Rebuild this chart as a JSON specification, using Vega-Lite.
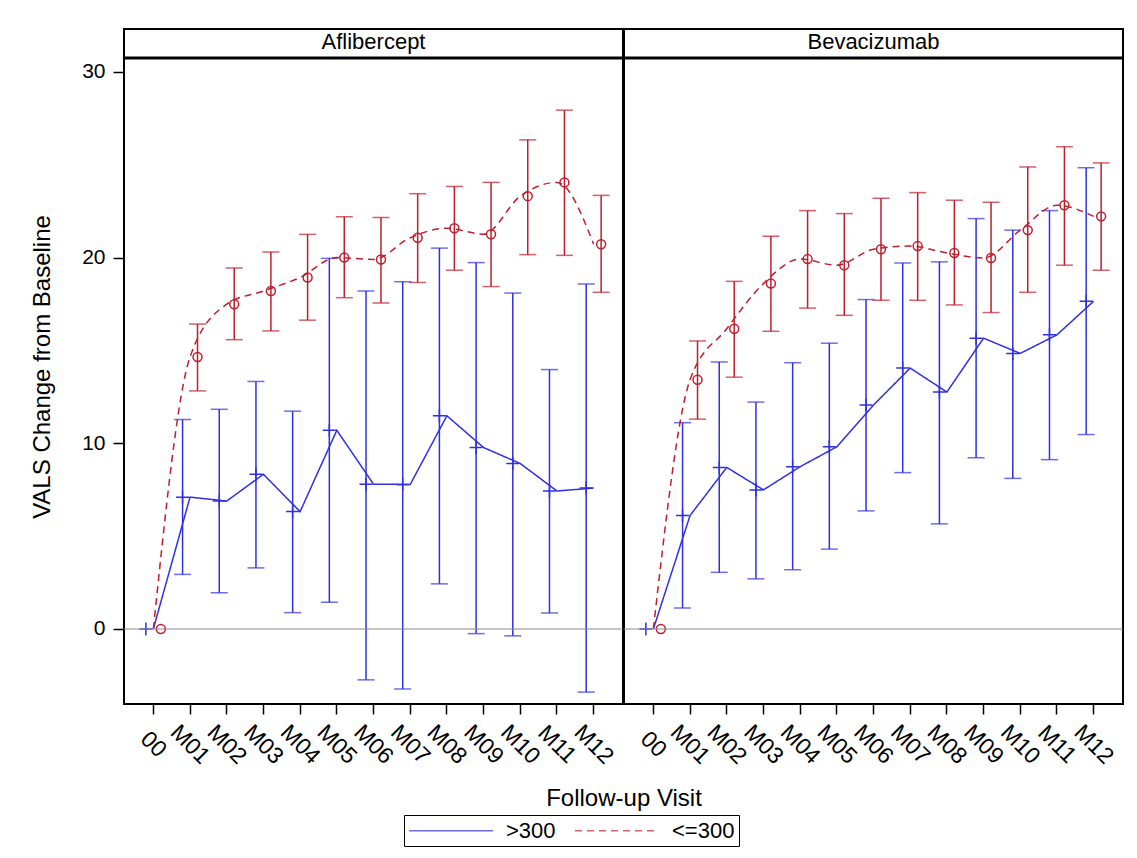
{
  "$schema": "https://vega.github.io/schema/vega-lite/v6.json",
  "padding": {"left": 30, "top": 28, "right": 5, "bottom": 5},
  "bounds": "flush",
  "config": {
    "font": "Liberation Sans",
    "view": {"stroke": "black", "strokeWidth": 2}
  },
  "data": {
    "values": [
      {"panel": "Aflibercept", "grp": ">300", "visit": "00", "mean": 0, "lo": null, "hi": null},
      {"panel": "Aflibercept", "grp": ">300", "visit": "M01", "mean": 7.1, "lo": 2.94, "hi": 11.28},
      {"panel": "Aflibercept", "grp": ">300", "visit": "M02", "mean": 6.89, "lo": 1.95, "hi": 11.83},
      {"panel": "Aflibercept", "grp": ">300", "visit": "M03", "mean": 8.33, "lo": 3.29, "hi": 13.33},
      {"panel": "Aflibercept", "grp": ">300", "visit": "M04", "mean": 6.32, "lo": 0.88, "hi": 11.73},
      {"panel": "Aflibercept", "grp": ">300", "visit": "M05", "mean": 10.7, "lo": 1.44, "hi": 19.96},
      {"panel": "Aflibercept", "grp": ">300", "visit": "M06", "mean": 7.8, "lo": -2.74, "hi": 18.2},
      {"panel": "Aflibercept", "grp": ">300", "visit": "M07", "mean": 7.78, "lo": -3.23, "hi": 18.7},
      {"panel": "Aflibercept", "grp": ">300", "visit": "M08", "mean": 11.48, "lo": 2.43, "hi": 20.51},
      {"panel": "Aflibercept", "grp": ">300", "visit": "M09", "mean": 9.77, "lo": -0.25, "hi": 19.73},
      {"panel": "Aflibercept", "grp": ">300", "visit": "M10", "mean": 8.91, "lo": -0.37, "hi": 18.09},
      {"panel": "Aflibercept", "grp": ">300", "visit": "M11", "mean": 7.43, "lo": 0.86, "hi": 13.97},
      {"panel": "Aflibercept", "grp": ">300", "visit": "M12", "mean": 7.59, "lo": -3.4, "hi": 18.58},
      {"panel": "Aflibercept", "grp": "<=300", "visit": "00", "mean": 0, "lo": null, "hi": null},
      {"panel": "Aflibercept", "grp": "<=300", "visit": "M01", "mean": 14.65, "lo": 12.82, "hi": 16.42},
      {"panel": "Aflibercept", "grp": "<=300", "visit": "M02", "mean": 17.49, "lo": 15.58, "hi": 19.44},
      {"panel": "Aflibercept", "grp": "<=300", "visit": "M03", "mean": 18.2, "lo": 16.05, "hi": 20.3},
      {"panel": "Aflibercept", "grp": "<=300", "visit": "M04", "mean": 18.93, "lo": 16.63, "hi": 21.25},
      {"panel": "Aflibercept", "grp": "<=300", "visit": "M05", "mean": 20.0, "lo": 17.84, "hi": 22.2},
      {"panel": "Aflibercept", "grp": "<=300", "visit": "M06", "mean": 19.9, "lo": 17.55, "hi": 22.16},
      {"panel": "Aflibercept", "grp": "<=300", "visit": "M07", "mean": 21.07, "lo": 18.66, "hi": 23.44},
      {"panel": "Aflibercept", "grp": "<=300", "visit": "M08", "mean": 21.58, "lo": 19.32, "hi": 23.83},
      {"panel": "Aflibercept", "grp": "<=300", "visit": "M09", "mean": 21.26, "lo": 18.44, "hi": 24.05},
      {"panel": "Aflibercept", "grp": "<=300", "visit": "M10", "mean": 23.31, "lo": 20.16, "hi": 26.34},
      {"panel": "Aflibercept", "grp": "<=300", "visit": "M11", "mean": 24.05, "lo": 20.12, "hi": 27.94},
      {"panel": "Aflibercept", "grp": "<=300", "visit": "M12", "mean": 20.72, "lo": 18.13, "hi": 23.35},
      {"panel": "Bevacizumab", "grp": ">300", "visit": "00", "mean": 0, "lo": null, "hi": null},
      {"panel": "Bevacizumab", "grp": ">300", "visit": "M01", "mean": 6.11, "lo": 1.13, "hi": 11.11},
      {"panel": "Bevacizumab", "grp": ">300", "visit": "M02", "mean": 8.7, "lo": 3.05, "hi": 14.38},
      {"panel": "Bevacizumab", "grp": ">300", "visit": "M03", "mean": 7.49, "lo": 2.7, "hi": 12.22},
      {"panel": "Bevacizumab", "grp": ">300", "visit": "M04", "mean": 8.74, "lo": 3.19, "hi": 14.34},
      {"panel": "Bevacizumab", "grp": ">300", "visit": "M05", "mean": 9.81, "lo": 4.3, "hi": 15.39},
      {"panel": "Bevacizumab", "grp": ">300", "visit": "M06", "mean": 12.06, "lo": 6.36, "hi": 17.74},
      {"panel": "Bevacizumab", "grp": ">300", "visit": "M07", "mean": 14.05, "lo": 8.42, "hi": 19.71},
      {"panel": "Bevacizumab", "grp": ">300", "visit": "M08", "mean": 12.76, "lo": 5.66, "hi": 19.77},
      {"panel": "Bevacizumab", "grp": ">300", "visit": "M09", "mean": 15.66, "lo": 9.22, "hi": 22.1},
      {"panel": "Bevacizumab", "grp": ">300", "visit": "M10", "mean": 14.84, "lo": 8.11, "hi": 21.48},
      {"panel": "Bevacizumab", "grp": ">300", "visit": "M11", "mean": 15.84, "lo": 9.12, "hi": 22.53},
      {"panel": "Bevacizumab", "grp": ">300", "visit": "M12", "mean": 17.65, "lo": 10.47, "hi": 24.84},
      {"panel": "Bevacizumab", "grp": "<=300", "visit": "00", "mean": 0, "lo": null, "hi": null},
      {"panel": "Bevacizumab", "grp": "<=300", "visit": "M01", "mean": 13.42, "lo": 11.3, "hi": 15.51},
      {"panel": "Bevacizumab", "grp": "<=300", "visit": "M02", "mean": 16.17, "lo": 13.56, "hi": 18.72},
      {"panel": "Bevacizumab", "grp": "<=300", "visit": "M03", "mean": 18.6, "lo": 16.03, "hi": 21.15},
      {"panel": "Bevacizumab", "grp": "<=300", "visit": "M04", "mean": 19.92, "lo": 17.28, "hi": 22.53},
      {"panel": "Bevacizumab", "grp": "<=300", "visit": "M05", "mean": 19.59, "lo": 16.89, "hi": 22.37},
      {"panel": "Bevacizumab", "grp": "<=300", "visit": "M06", "mean": 20.45, "lo": 17.7, "hi": 23.19},
      {"panel": "Bevacizumab", "grp": "<=300", "visit": "M07", "mean": 20.62, "lo": 17.7, "hi": 23.5},
      {"panel": "Bevacizumab", "grp": "<=300", "visit": "M08", "mean": 20.25, "lo": 17.45, "hi": 23.09},
      {"panel": "Bevacizumab", "grp": "<=300", "visit": "M09", "mean": 19.98, "lo": 17.04, "hi": 22.98},
      {"panel": "Bevacizumab", "grp": "<=300", "visit": "M10", "mean": 21.48, "lo": 18.13, "hi": 24.88},
      {"panel": "Bevacizumab", "grp": "<=300", "visit": "M11", "mean": 22.82, "lo": 19.59, "hi": 25.97},
      {"panel": "Bevacizumab", "grp": "<=300", "visit": "M12", "mean": 22.22, "lo": 19.32, "hi": 25.1}
    ]
  },
  "facet": {
    "column": {
      "field": "panel",
      "type": "nominal",
      "sort": ["Aflibercept", "Bevacizumab"],
      "header": {
        "title": "Follow-up Visit",
        "titleOrient": "bottom",
        "titleFontSize": 24,
        "titleFontWeight": "normal",
        "titleColor": "black",
        "titlePadding": 8,
        "labelOrient": "top",
        "labelFontSize": 22,
        "labelColor": "black",
        "labelPadding": -25
      }
    }
  },
  "spacing": 1,
  "spec": {
    "width": 499,
    "height": 675,
    "encoding": {
      "x": {
        "field": "visit",
        "type": "ordinal",
        "scale": {"type": "band", "paddingInner": 0, "paddingOuter": 0.3},
        "axis": {
          "title": null,
          "domain": false,
          "tickSize": 10,
          "tickColor": "black",
          "tickWidth": 1.5,
          "labelAngle": 45,
          "labelAlign": "center",
          "labelBaseline": "middle",
          "labelPadding": 30,
          "labelFontSize": 23,
          "labelColor": "black"
        }
      },
      "color": {
        "field": "grp",
        "type": "nominal",
        "scale": {"domain": [">300", "<=300"], "range": ["#2f2fe6", "#bf1e2e"]},
        "legend": {
          "title": null,
          "orient": "none",
          "legendX": 280,
          "legendY": 786,
          "direction": "horizontal",
          "symbolType": "M-1,0H7",
          "symbolSize": 441,
          "symbolStrokeWidth": 1.5,
          "labelFontSize": 22,
          "labelColor": "black",
          "labelOffset": 75,
          "columnPadding": 16,
          "strokeColor": "black",
          "padding": 4
        }
      }
    },
    "layer": [
      {
        "transform": [{"filter": "datum.visit == '00' && datum.grp == '>300'"}],
        "mark": {"type": "rule", "color": "black", "strokeWidth": 3},
        "encoding": {
          "x": null,
          "color": null,
          "y": {
            "datum": 30.75,
            "type": "quantitative",
            "scale": {"domain": [-4.04, 32.31], "nice": false, "zero": false},
            "axis": {
              "title": "VALS Change from Baseline",
              "titleFontSize": 24,
              "titleFontWeight": "normal",
              "titleColor": "black",
              "titlePadding": 27,
              "values": [0, 10, 20, 30],
              "grid": false,
              "domain": false,
              "tickSize": 11,
              "tickColor": "black",
              "tickWidth": 1.5,
              "labelPadding": 8,
              "labelFontSize": 21,
              "labelColor": "black"
            }
          }
        }
      },
      {
        "transform": [{"filter": "datum.lo != null"}],
        "mark": {"type": "rule", "strokeWidth": 1.5},
        "encoding": {
          "xOffset": {"field": "grp", "type": "nominal", "scale": {"domain": [">300", "<=300"], "paddingOuter": 0.227, "paddingInner": 0}},
          "y": {"field": "lo", "type": "quantitative"},
          "y2": {"field": "hi"}
        }
      },
      {
        "transform": [{"filter": "datum.lo != null"}],
        "mark": {"type": "tick", "size": 17, "thickness": 1.5},
        "encoding": {
          "xOffset": {"field": "grp", "type": "nominal"},
          "y": {"field": "lo", "type": "quantitative"}
        }
      },
      {
        "transform": [{"filter": "datum.lo != null"}],
        "mark": {"type": "tick", "size": 17, "thickness": 1.5},
        "encoding": {
          "xOffset": {"field": "grp", "type": "nominal"},
          "y": {"field": "hi", "type": "quantitative"}
        }
      },
      {
        "transform": [{"filter": "datum.grp == '>300'"}],
        "mark": {"type": "line", "strokeWidth": 1.5, "interpolate": "linear"},
        "encoding": {
          "y": {"field": "mean", "type": "quantitative"},
          "strokeDash": {
            "field": "grp",
            "type": "nominal",
            "scale": {"domain": [">300", "<=300"], "range": [[1, 0], [7, 5]]},
            "legend": {
              "title": null,
              "orient": "none",
              "legendX": 280,
              "legendY": 786,
              "direction": "horizontal",
              "symbolType": "M-1,0H7",
              "symbolSize": 441,
              "symbolStrokeWidth": 1.5,
              "labelFontSize": 22,
              "labelColor": "black",
              "labelOffset": 75,
              "columnPadding": 16,
              "strokeColor": "black",
              "padding": 4
            }
          }
        }
      },
      {
        "transform": [{"filter": "datum.grp == '<=300'"}],
        "mark": {"type": "line", "strokeWidth": 1.5, "interpolate": "monotone"},
        "encoding": {
          "y": {"field": "mean", "type": "quantitative"},
          "strokeDash": {"field": "grp", "type": "nominal"}
        }
      },
      {
        "transform": [{"filter": "datum.grp == '<=300'"}],
        "mark": {"type": "point", "shape": "circle", "filled": false, "size": 80, "strokeWidth": 1.5, "opacity": 1},
        "encoding": {
          "xOffset": {"field": "grp", "type": "nominal"},
          "y": {"field": "mean", "type": "quantitative"}
        }
      },
      {
        "transform": [{"filter": "datum.grp == '>300'"}],
        "mark": {"type": "point", "shape": "M-1,0H1M0,-1V1", "filled": false, "size": 169, "strokeWidth": 1.5, "opacity": 1},
        "encoding": {
          "xOffset": {"field": "grp", "type": "nominal"},
          "y": {"field": "mean", "type": "quantitative"}
        }
      },
      {
        "transform": [{"filter": "datum.visit == '00' && datum.grp == '>300'"}],
        "mark": {"type": "rule", "color": "#8c8c8c", "strokeWidth": 1.2},
        "encoding": {"x": null, "color": null, "y": {"datum": 0, "type": "quantitative"}}
      }
    ]
  }
}
